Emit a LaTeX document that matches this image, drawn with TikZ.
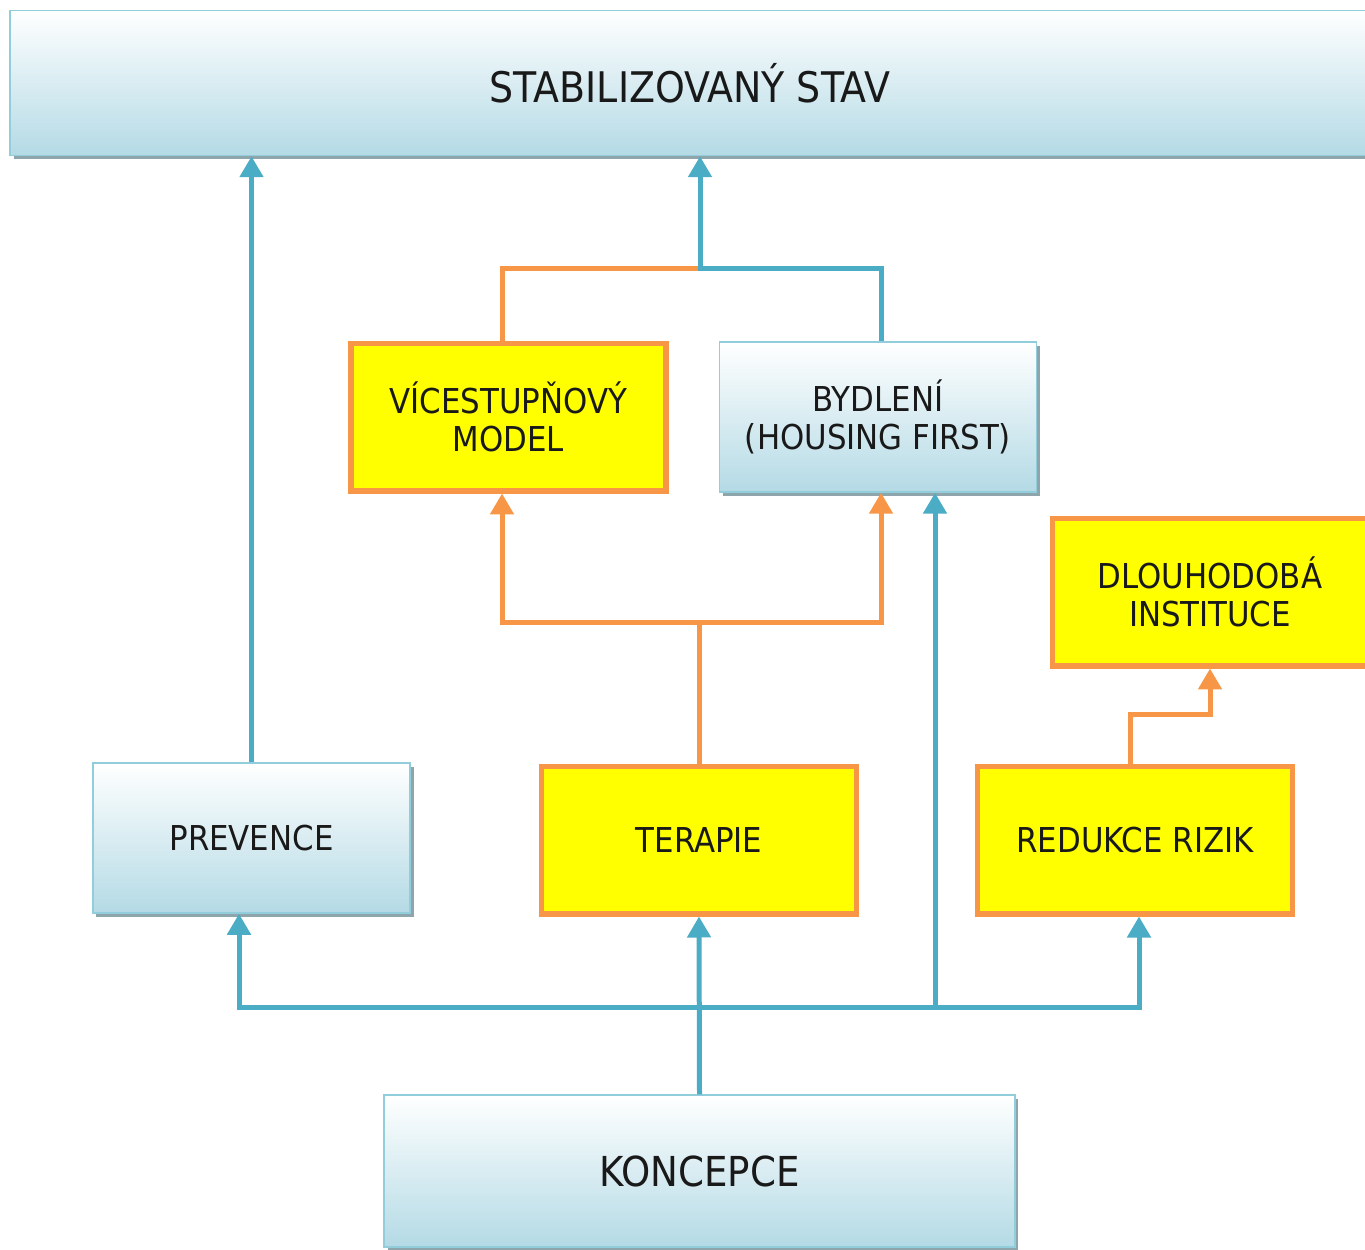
\documentclass[tikz,border=0pt]{standalone}
\usepackage{fontspec}
\setmainfont{DejaVu Sans Condensed}
\usetikzlibrary{arrows.meta, shadows, calc}
\definecolor{linkblue}{HTML}{4BACC6}
\definecolor{linkorange}{HTML}{F79646}
\definecolor{boxedge}{HTML}{92CDDC}
\definecolor{boxbottom}{HTML}{B4DAE5}
\definecolor{shadowgray}{HTML}{8FA5AC}
\definecolor{boxyellow}{HTML}{FFFF00}
\tikzstyle{every node}=[font=\fontsize{19.5}{22}\selectfont, text=black!90, align=center]
\tikzstyle{bluebox} = [rectangle, minimum width=6.35cm, minimum height=3cm, draw=boxedge, line width=0.03cm, top color=white, bottom color=boxbottom, drop shadow={shadow xshift=0.07cm, shadow yshift=-0.07cm, fill=shadowgray, opacity=1}]
\tikzstyle{yellowbox} = [rectangle, minimum width=6.3cm, minimum height=2.95cm, draw=linkorange, line width=0.11cm, fill=boxyellow]
\tikzstyle{bluearrow} = [line width=0.1cm, draw=linkblue, -{Triangle[width=0.46cm,length=0.42cm]}]
\tikzstyle{bluebus} = [line width=0.1cm, draw=linkblue, {Triangle[width=0.46cm,length=0.42cm]}-{Triangle[width=0.46cm,length=0.42cm]}]
\tikzstyle{bluelink} = [line width=0.1cm, draw=linkblue]
\tikzstyle{orangearrow} = [line width=0.1cm, draw=linkorange, -{Triangle[width=0.46cm,length=0.42cm]}]
\tikzstyle{orangebus} = [line width=0.1cm, draw=linkorange, {Triangle[width=0.46cm,length=0.42cm]}-{Triangle[width=0.46cm,length=0.42cm]}]
\tikzstyle{orangelink} = [line width=0.1cm, draw=linkorange]

\begin{document}
\begin{tikzpicture}[x=0.02cm, y=-0.02cm]
  \useasboundingbox (0,0) rectangle (1365,1249);

  \node (stav) [bluebox, minimum width=27.2cm, minimum height=2.9cm, font=\fontsize{24}{27}\selectfont] at (690,83) {STABILIZOVANÝ STAV};
  \node (vice) [yellowbox] at (508.5,417) {VÍCESTUPŇOVÝ\\MODEL};
  \node (bydleni) [bluebox] at (878,417) {BYDLENÍ\\(HOUSING FIRST)};
  \node (dlouho) [yellowbox] at (1210,592) {DLOUHODOBÁ\\INSTITUCE};
  \node (prevence) [bluebox] at (251.5,838) {PREVENCE};
  \node (terapie) [yellowbox] at (699,840) {TERAPIE};
  \node (redukce) [yellowbox] at (1135,840) {REDUKCE RIZIK};
  \node (koncepce) [bluebox, minimum width=12.62cm, minimum height=3.04cm, font=\fontsize{23.5}{26}\selectfont] at (699.5,1171) {KONCEPCE};

  \coordinate (busL) at (239,1007);
  \coordinate (busB) at (935,1007);
  \coordinate (busR) at (1139,1007);
  \coordinate (splitL) at (502,622);
  \coordinate (splitR) at (881,622);
  \coordinate (joinT) at (700,268);
  \coordinate (stepR) at (1130,714);

  \draw [bluearrow] (koncepce.north) -- (terapie.south);
  \draw [bluebus] (busL |- prevence.south) -- (busL) -- (busR) -- (busR |- redukce.south);
  \draw [bluearrow] (busB) -- (busB |- bydleni.south);
  \draw [bluearrow] (prevence.north) -- (prevence.north |- stav.south);

  \draw [orangelink] (terapie.north) -- (terapie.north |- splitL);
  \draw [orangebus] (splitL |- vice.south) -- (splitL) -- (splitR) -- (splitR |- bydleni.south);
  \draw [orangelink] (splitL |- vice.north) -- (splitL |- joinT) -- (joinT);
  \draw [bluearrow] (splitR |- bydleni.north) -- (splitR |- joinT) -- (joinT) -- (joinT |- stav.south);
  \draw [orangearrow] (stepR |- redukce.north) -- (stepR) -- (stepR -| dlouho.south) -- (dlouho.south);
\end{tikzpicture}
\end{document}
